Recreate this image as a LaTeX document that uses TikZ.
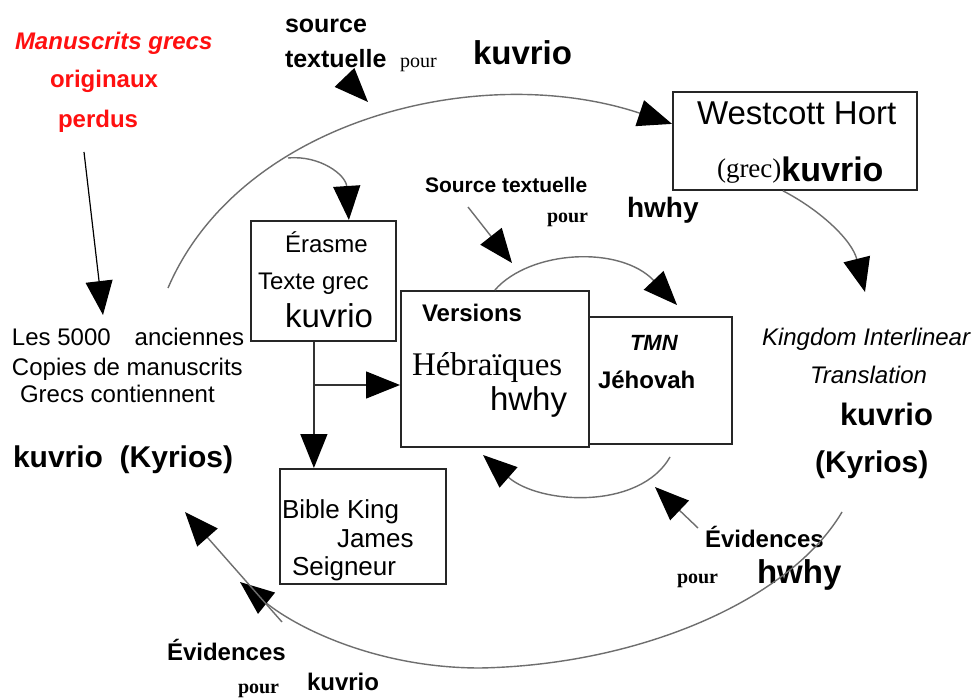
\documentclass[tikz,border=0pt]{standalone}
\usepackage{fontspec}
\setmainfont{Liberation Sans}
\newfontfamily\tnr{Liberation Serif}
\usetikzlibrary{arrows.meta}
\newcommand\fsz[1]{\fontsize{#1}{#1}\selectfont}
\definecolor{conncol}{HTML}{6E6E6E}
\definecolor{redtxt}{HTML}{FF1010}
\tikzset{
  txt/.style={anchor=base west, inner sep=0pt, outer sep=0pt},
  boxn/.style={draw=black!85, line width=1.8pt, anchor=north west, inner sep=0pt, rectangle},
  conn/.style={draw=conncol, line width=1.4pt, -{Triangle[length=34pt,width=27pt,color=black]}},
  plain/.style={draw=black, line width=1.2pt}
}
\begin{document}
\begin{tikzpicture}[x=1pt,y=-1pt]
\useasboundingbox[fill=white] (0,0) rectangle (974,700);

% boxes
\node[boxn, minimum width=244pt, minimum height=98pt] (wh) at (672,91) {};
\node[boxn, minimum width=145pt, minimum height=120pt] (er) at (250,220) {};
\node[boxn, minimum width=143pt, minimum height=127pt] (tmn) at (588,316) {};
\node[boxn, minimum width=188pt, minimum height=156pt] (ve) at (400,290) {};
\node[boxn, minimum width=166pt, minimum height=115pt] (kj) at (279,468) {};

% red title
\node[txt, text=redtxt, font=\fsz{24}\bfseries\itshape] (r1) at (15,50) {Manuscrits grecs};
\node[txt, text=redtxt, font=\fsz{24}\bfseries] (r2) at (50,88) {originaux};
\node[txt, text=redtxt, font=\fsz{24}\bfseries] (r3) at (58,128) {perdus};

% top labels
\node[txt, font=\fsz{25}\bfseries] (s1) at (285,33) {source};
\node[txt, font=\fsz{25}\bfseries] (s2) at (285,68) {textuelle};
\node[txt, font=\fsz{20}\tnr] (s3) at (400,68) {pour};
\node[txt, font=\fsz{33}\bfseries] (s4) at (473,65) {kuvrio};

% Westcott Hort
\node[txt, font=\fsz{33}] (w1) at (697,125) {Westcott Hort};
\node[txt, font=\fsz{34}\bfseries] (w2) at (717,182) {\raisebox{4pt}{\tnr\mdseries\fsz{27}(grec)}kuvrio};

% Erasme
\node[txt, font=\fsz{24}] (e1) at (285,253) {Érasme};
\node[txt, font=\fsz{24}] (e2) at (258,290) {Texte grec};
\node[txt, font=\fsz{33}] (e3) at (285,327) {kuvrio};

% Versions
\node[txt, font=\fsz{24}\bfseries] (v1) at (422,322) {Versions};
\node[txt, font=\fsz{33}\tnr] (v2) at (412,375) {Hébraïques};
\node[txt, font=\fsz{33}] (v3) at (490,410) {hwhy};

% TMN
\node[txt, font=\fsz{22}\bfseries\itshape] (t1) at (630,350) {TMN};
\node[txt, font=\fsz{24}\bfseries] (t2) at (598,388) {Jéhovah};

% Source textuelle centre
\node[txt, font=\fsz{21}\bfseries] (c1) at (425,193) {Source textuelle};
\node[txt, font=\fsz{20}\tnr\bfseries] (c2) at (547,223) {pour};
\node[txt, font=\fsz{28}\bfseries] (c3) at (627,218) {hwhy};

% Kingdom Interlinear
\node[txt, font=\fsz{24}\itshape] (k1) at (762,345) {Kingdom Interlinear};
\node[txt, font=\fsz{24}\itshape] (k2) at (810,383) {Translation};
\node[txt, font=\fsz{31}\bfseries] (k3) at (840,425) {kuvrio};
\node[txt, font=\fsz{30}\bfseries] (k4) at (815,472) {(Kyrios)};

% left text
\node[txt, font=\fsz{24}] (l1) at (12,345) {Les 5000\hspace{24pt}anciennes};
\node[txt, font=\fsz{24}] (l2) at (12,375) {Copies de manuscrits};
\node[txt, font=\fsz{24}] (l3) at (20,402) {Grecs contiennent};
\node[txt, font=\fsz{30}\bfseries] (l4) at (13,467) {kuvrio\ \ (Kyrios)};

% King James
\node[txt, font=\fsz{26}] (j1) at (282,518) {Bible King};
\node[txt, font=\fsz{26}] (j2) at (337,547) {James};
\node[txt, font=\fsz{26}] (j3) at (292,575) {Seigneur};

% bottom left evidences
\node[txt, font=\fsz{24}\bfseries] (b1) at (167,660) {Évidences};
\node[txt, font=\fsz{20}\tnr\bfseries] (b2) at (238,693) {pour};
\node[txt, font=\fsz{24}\bfseries] (b3) at (307,690) {kuvrio};

% bottom right evidences
\node[txt, font=\fsz{24}\bfseries] (d1) at (705,547) {Évidences};
\node[txt, font=\fsz{20}\tnr\bfseries] (d2) at (677,583) {pour};
\node[txt, font=\fsz{33}\bfseries] (d3) at (757,583) {hwhy};

% coordinates
\coordinate (redS) at (84,152);
\coordinate (redE) at (103,315);
\coordinate (stA) at (345,78);
\coordinate (stB) at (368,102);
\coordinate (arcL) at (168,288);
\coordinate (br) at (288,158);
\coordinate (kiTop) at (865,292);
\coordinate (erb) at (313,385);
\coordinate (scA) at (468,207);
\coordinate (scB) at (512,263);
\coordinate (tmnIn) at (677,305);
\coordinate (la1) at (670,457);
\coordinate (la2) at (483,455);
\coordinate (ehA) at (698,528);
\coordinate (ehB) at (655,487);
\coordinate (bgA) at (842,512);
\coordinate (bgB) at (240,582);
\coordinate (ekA) at (282,622);
\coordinate (ekB) at (185,512);

% connectors
\draw[conn, draw=black, line width=1.2pt] (redS) -- (redE);
\draw[conn] (stA) -- (stB);
\draw[conn] (arcL) .. controls (240,120) and (480,60) .. ([yshift=17pt]wh.west);
\draw[conn] (br) .. controls (320,155) and (346,175) .. ([xshift=25.5pt]er.north);
\draw[conn] ([xshift=-12pt]wh.south) .. controls (820,210) and (852,240) .. (kiTop);
\draw[conn, draw=black!80] ([xshift=-9.5pt]er.south) -- ([xshift=-9.5pt]er.south |- kj.north);
\draw[conn, draw=black!80] (erb) -- (erb -| ve.west);
\draw[conn] (scA) -- (scB);
\draw[conn] (ve.north) .. controls (530,250) and (620,245) .. (tmnIn);
\draw[conn] (la1) .. controls (640,510) and (540,505) .. (la2);
\draw[conn] (ehA) -- (ehB);
\draw[conn] (bgA) .. controls (790,600) and (640,665) .. (480,668) .. controls (380,668) and (300,630) .. (bgB);
\draw[conn] (ekA) -- (ekB);
\end{tikzpicture}
\end{document}
